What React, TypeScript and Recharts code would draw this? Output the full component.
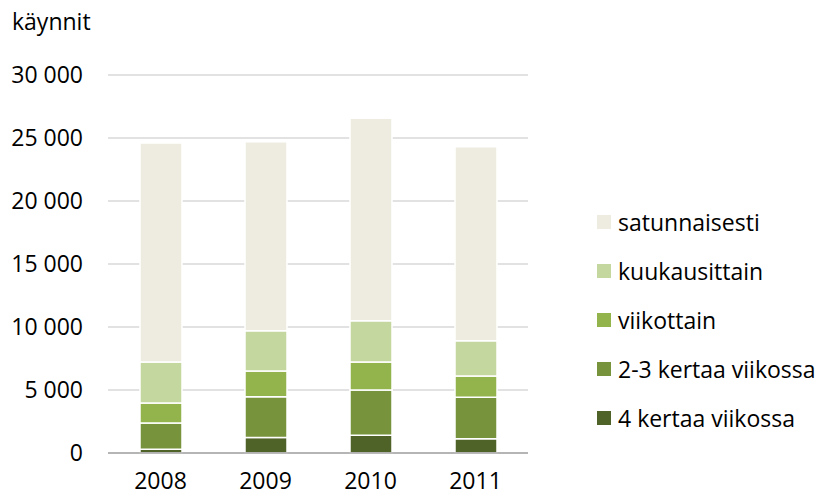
import React from 'react';
import { BarChart, Bar, XAxis, YAxis, CartesianGrid } from 'recharts';

// käynnit per vuosi, luettu kuvasta
const years = ['2008', '2009', '2010', '2011'];
const neljaKertaa = [300, 1240, 1400, 1140];
const kaksiKolme = [2080, 3230, 3600, 3280];
const viikottain = [1590, 2030, 2220, 1690];
const kuukausittain = [3250, 3210, 3280, 2800];
const satunnaisesti = [17380, 15000, 16060, 15390];
const yTicks = [0, 5000, 10000, 15000, 20000, 25000, 30000];

const series = [
  { key: 'neljaKertaa', name: '4 kertaa viikossa', color: '#4F6228' },
  { key: 'kaksiKolme', name: '2-3 kertaa viikossa', color: '#77933C' },
  { key: 'viikottain', name: 'viikottain', color: '#93B44C' },
  { key: 'kuukausittain', name: 'kuukausittain', color: '#C4D79E' },
  { key: 'satunnaisesti', name: 'satunnaisesti', color: '#EEECE1' },
];

const data = years.map((year, i) => ({
  year,
  neljaKertaa: neljaKertaa[i],
  kaksiKolme: kaksiKolme[i],
  viikottain: viikottain[i],
  kuukausittain: kuukausittain[i],
  satunnaisesti: satunnaisesti[i],
}));

const font = '"Open Sans", sans-serif';

const formatThousands = (v: number) =>
  String(v).replace(/\B(?=(\d{3})+(?!\d))/g, ' ');

// legenda omana laatikkona, jotta se ei vie tilaa kuvaajalta
function LegendBox() {
  const items = [...series].reverse();
  return (
    <div
      style={{
        position: 'absolute',
        left: 597,
        top: 197,
        fontFamily: font,
        fontSize: 23,
        color: '#000',
        whiteSpace: 'nowrap',
      }}
    >
      {items.map((s) => (
        <div
          key={s.key}
          style={{ display: 'flex', alignItems: 'center', height: 49 }}
        >
          <span
            style={{
              display: 'inline-block',
              width: 14,
              height: 14,
              background: s.color,
              marginRight: 7,
            }}
          />
          <span>{s.name}</span>
        </div>
      ))}
    </div>
  );
}

export default function App() {
  return (
    <div
      style={{
        position: 'absolute',
        left: 0,
        top: 0,
        width: 819,
        height: 496,
        background: '#fff',
      }}
    >
      <BarChart
        width={819}
        height={496}
        data={data}
        margin={{ top: 75, right: 291, left: 0, bottom: 0 }}
      >
        <CartesianGrid vertical={false} stroke="#d9d9d9" strokeWidth={1.5} />
        <XAxis
          dataKey="year"
          height={43}
          tickLine={false}
          tickSize={0}
          tickMargin={20}
          axisLine={{ stroke: '#a6a6a6', strokeWidth: 1.5 }}
          tick={{ fontFamily: font, fontSize: 23, fill: '#000' }}
        />
        <YAxis
          width={108}
          domain={[0, 30000]}
          ticks={yTicks}
          interval={0}
          axisLine={false}
          tickLine={false}
          tickSize={0}
          tickMargin={25}
          tickFormatter={formatThousands}
          tick={{ fontFamily: font, fontSize: 23, fill: '#000' }}
          label={{
            content: () => (
              <text x={12} y={30} fontFamily={font} fontSize={23} fill="#000">
                käynnit
              </text>
            ),
          }}
        />
        {series.map((s) => (
          <Bar
            key={s.key}
            dataKey={s.key}
            name={s.name}
            stackId="a"
            fill={s.color}
            stroke="#fff"
            strokeWidth={1.5}
            barSize={42}
            isAnimationActive={false}
          />
        ))}
      </BarChart>
      <LegendBox />
    </div>
  );
}
